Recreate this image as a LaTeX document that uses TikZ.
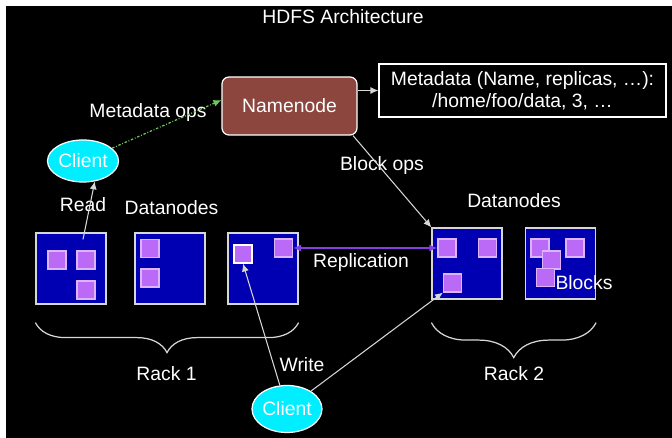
\documentclass[tikz,border=0pt]{standalone}
\usepackage{fontspec}
\setmainfont{Liberation Sans}
\usetikzlibrary{shapes.geometric,decorations.pathreplacing,arrows.meta}

\definecolor{nnbrown}{RGB}{140,70,62}
\definecolor{dnblue}{RGB}{0,0,178}
\definecolor{blkfill}{RGB}{186,106,246}
\definecolor{blkedge}{RGB}{222,180,255}
\definecolor{clcyan}{RGB}{0,238,255}
\definecolor{opsgreen}{RGB}{112,200,92}
\definecolor{replviolet}{RGB}{132,62,228}
\definecolor{linegray}{RGB}{215,215,215}

\tikzset{
	lbl/.style={text=white, font=\fontsize{11}{12.5}\selectfont, inner sep=0pt},
	dnode/.style={draw=linegray, fill=dnblue, line width=0.7pt, minimum width=1.4cm, minimum height=1.42cm, inner sep=0pt},
	blk/.style={draw=blkedge, fill=blkfill, line width=0.7pt, minimum size=0.36cm, inner sep=0pt},
	client/.style={lbl, ellipse, draw=white, fill=clcyan, line width=0.7pt},
	link/.style={draw=linegray, line width=0.6pt, -{Latex[length=4.5pt,width=4pt]}},
	rack/.style={draw=linegray, line width=0.7pt, decorate},
}

\begin{document}
\begin{tikzpicture}
	\fill[white] (0,0) rectangle (13.44,-8.76);
	\fill[black] (0.12,-0.12) rectangle (13.44,-8.76);
	\useasboundingbox (0,0) rectangle (13.44,-8.76);

	\node[lbl] (title) at (6.86,-0.34) {HDFS Architecture};
	\node[lbl, draw=white, fill=nnbrown, rounded corners=0.14cm, line width=0.7pt, minimum width=2.7cm, minimum height=1.16cm] (namenode) at (5.79,-2.12) {Namenode};
	\node[lbl, draw=white, fill=black, line width=0.7pt, align=center, minimum width=5.74cm, minimum height=1.06cm] (meta) at (10.45,-1.81) {Metadata (Name, replicas, …):\\/home/foo/data, 3, …};

	\node[client, minimum width=1.42cm, minimum height=0.84cm] (clientA) at (1.66,-3.22) {Client};
	\node[client, minimum width=1.40cm, minimum height=0.94cm] (clientB) at (5.74,-8.18) {Client};

	% datanodes, rack 1 and rack 2
	\node[dnode] (dn1) at (1.42,-5.37) {};
	\node[dnode] (dn2) at (3.40,-5.37) {};
	\node[dnode] (dn3) at (5.26,-5.37) {};
	\node[dnode] (dn4) at (9.34,-5.27) {};
	\node[dnode] (dn5) at (11.21,-5.27) {};

	% blocks
	\node[blk] (d1b1) at (1.14,-5.20) {};
	\node[blk] (d1b2) at (1.72,-5.20) {};
	\node[blk] (d1b3) at (1.72,-5.80) {};
	\node[blk] (d2b1) at (3.00,-4.97) {};
	\node[blk] (d2b2) at (3.00,-5.56) {};
	\node[blk, draw=white] (d3b1) at (4.86,-5.08) {};
	\node[blk] (d3b2) at (5.67,-4.96) {};
	\node[blk] (d4b1) at (8.94,-4.96) {};
	\node[blk] (d4b2) at (9.75,-4.96) {};
	\node[blk] (d4b3) at (9.05,-5.66) {};
	\node[blk] (d5b1) at (10.80,-4.96) {};
	\node[blk] (d5b2) at (11.03,-5.20) {};
	\node[blk] (d5b3) at (10.91,-5.55) {};
	\node[blk] (d5b4) at (11.50,-4.96) {};

	\node[lbl] (mops) at (2.96,-2.26) {Metadata ops};
	\node[lbl] (read) at (1.66,-4.10) {Read};
	\node[lbl] (dnA) at (3.43,-4.16) {Datanodes};
	\node[lbl] (bops) at (7.64,-3.32) {Block ops};
	\node[lbl] (dnB) at (10.28,-4.02) {Datanodes};
	\node[lbl] (repl) at (7.22,-5.26) {Replication};
	\node[lbl] (blocks) at (11.68,-5.66) {Blocks};
	\node[lbl] (write) at (6.04,-7.30) {Write};

	\draw[link] (namenode.east |- meta.west) -- (meta.west);
	\draw[opsgreen, line width=0.7pt, dash pattern=on 1.4pt off 1pt on 0.5pt off 1pt, -{Latex[length=4.5pt,width=4pt]}] (clientA) -- (namenode.175);
	\draw[link] ([xshift=0.24cm,yshift=-0.14cm]dn1.north) -- (clientA.300);
	\draw[link] (namenode.-25) -- (dn4.north west);
	\draw[replviolet, line width=0.9pt, {Latex[length=4.5pt,width=4pt]}-{Latex[length=4.5pt,width=4pt]}] (d3b2.east) -- (d4b1.west);
	\draw[link] (clientB) -- (d3b1.south);
	\draw[link] (clientB) -- (d4b3.south west);

	% racks
	\draw[rack, decoration={brace, amplitude=0.6cm}] ([yshift=-0.36cm]dn3.south east) -- ([yshift=-0.36cm]dn1.south west);
	\draw[rack, decoration={brace, amplitude=0.7cm}] ([yshift=-0.46cm]dn5.south east) -- ([yshift=-0.46cm]dn4.south west);
	\node[lbl] (rack1) at (3.33,-7.48) {Rack 1};
	\node[lbl] (rack2) at (10.28,-7.48) {Rack 2};
\end{tikzpicture}
\end{document}
